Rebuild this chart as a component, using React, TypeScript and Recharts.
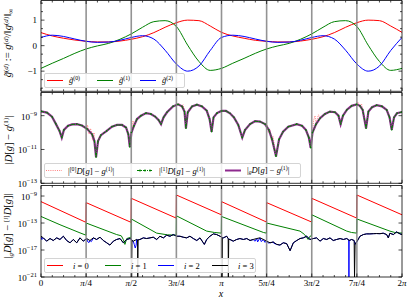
import React from 'react';
import { LineChart, Line, XAxis, YAxis, ReferenceLine, Legend } from 'recharts';

const FONT = '"Liberation Serif", "DejaVu Serif", serif';

// x is measured in units of pi throughout
const xGrid = [0, 0.0625, 0.125, 0.1875, 0.25, 0.3125, 0.375, 0.4375, 0.5, 0.5625, 0.625, 0.6875, 0.75, 0.8125, 0.875, 0.9375, 1,
  1.0625, 1.125, 1.1875, 1.25, 1.3125, 1.375, 1.4375, 1.5, 1.5625, 1.625, 1.6875, 1.75, 1.8125, 1.875, 1.9375, 2];
const xTickLabels = ['0', 'π/4', 'π/2', '3π/4', 'π', '5π/4', '3π/2', '7π/4', '2π'];
const gridLines = [0.25, 0.5, 0.75, 1, 1.25, 1.5, 1.75];

// top panel: normalised g and derivatives
const gTilde0 = [0.51, 0.38, 0.29, 0.22, 0.17, 0.145, 0.145, 0.18, 0.25, 0.35, 0.51, 0.72, 0.9, 1.0, 0.98, 0.77,
  0.52, 0.38, 0.29, 0.21, 0.17, 0.145, 0.145, 0.18, 0.25, 0.35, 0.51, 0.72, 0.9, 1.0, 0.98, 0.77, 0.52];
const gTilde1 = [-0.89, -0.69, -0.5, -0.3, -0.13, -0.01, 0.09, 0.25, 0.46, 0.72, 0.94, 0.98, 0.75, 0.02, -0.62, -0.97,
  -0.89, -0.69, -0.5, -0.3, -0.13, -0.01, 0.09, 0.25, 0.46, 0.72, 0.94, 0.98, 0.75, 0.02, -0.62, -0.97, -0.89];
const gTilde2 = [0.32, 0.41, 0.36, 0.26, 0.17, 0.13, 0.14, 0.21, 0.32, 0.39, 0.26, -0.18, -0.72, -1.0, -0.8, -0.19,
  0.32, 0.41, 0.36, 0.26, 0.17, 0.13, 0.14, 0.21, 0.32, 0.39, 0.26, -0.18, -0.72, -1.0, -0.8, -0.19, 0.32];

// middle panel: log10 |D[g] - g'|, [x, log10]
const errGD: [number, number][] = [
  [0, -8.74], [0.033, -8.82], [0.061, -9.06], [0.083, -9.5], [0.1025, -9.9], [0.115, -10.3], [0.127, -9.84], [0.15, -9.6],
  [0.172, -9.52], [0.199, -9.5], [0.227, -9.58], [0.255, -9.78], [0.283, -10.1], [0.296, -10.5], [0.305, -11.45], [0.316, -10.5],
  [0.332, -10.15], [0.364, -9.9], [0.393, -9.65], [0.421, -9.55], [0.449, -9.55], [0.471, -9.7], [0.484, -10.1], [0.492, -10.85],
  [0.501, -10.0], [0.515, -9.6], [0.532, -9.2], [0.554, -9.0], [0.582, -8.85], [0.609, -8.9], [0.632, -9.05], [0.651, -9.25],
  [0.665, -9.5], [0.679, -9.1], [0.698, -8.8], [0.731, -8.45], [0.759, -8.33], [0.781, -8.45], [0.795, -8.75], [0.803, -9.74],
  [0.813, -8.8], [0.837, -8.45], [0.864, -8.35], [0.892, -8.45], [0.918, -8.7], [0.934, -9.2], [0.945, -9.95], [0.956, -9.1],
  [0.975, -8.85], [1.0, -8.72], [1.025, -8.72], [1.047, -8.86], [1.069, -9.1], [1.093, -9.55], [1.115, -10.3], [1.13, -9.85],
  [1.158, -9.5], [1.186, -9.33], [1.213, -9.35], [1.241, -9.5], [1.263, -9.85], [1.28, -10.4], [1.302, -11.4], [1.319, -10.4],
  [1.341, -9.95], [1.37, -9.65], [1.417, -9.5], [1.446, -9.6], [1.468, -9.85], [1.484, -10.3], [1.494, -10.9], [1.504, -10.0],
  [1.524, -9.5], [1.546, -9.15], [1.573, -8.9], [1.601, -8.76], [1.629, -8.8], [1.648, -9.0], [1.66, -9.5], [1.673, -9.0],
  [1.695, -8.65], [1.721, -8.42], [1.749, -8.33], [1.767, -8.42], [1.782, -8.66], [1.801, -9.74], [1.814, -8.75], [1.834, -8.5],
  [1.86, -8.38], [1.889, -8.45], [1.915, -8.66], [1.931, -9.1], [1.943, -9.84], [1.956, -9.1], [1.972, -8.86], [2.0, -8.78],
];
// where the [0] stencil wanders off the common curve
const errD0Wiggles: [number, number][] = [
  [0.258, -9.55], [0.266, -10.1], [0.274, -9.75], [0.285, -10.45], [0.294, -10.0], [0.324, -10.2],
  [0.51, -9.3], [0.521, -9.55], [0.529, -9.15],
  [0.765, -8.28], [0.776, -8.5], [0.787, -8.35], [0.798, -8.9],
  [1.252, -9.55], [1.26, -10.0], [1.269, -9.8], [1.277, -10.5], [1.285, -10.2],
  [1.51, -9.3], [1.518, -9.0], [1.529, -9.25], [1.537, -8.95],
  [1.756, -8.2], [1.764, -8.45], [1.776, -8.3], [1.784, -8.75],
];

// bottom panel: log10 |gD[g] - [i]D[g]|
const diff0: [number, number][] = [
  [0, -9.83], [0.249, -12.9], [0.2501, -9.98], [0.499, -12.9], [0.5001, -9.34], [0.749, -12.27], [0.7501, -8.85], [0.999, -11.78],
  [1.0001, -9.83], [1.249, -12.85], [1.2501, -9.98], [1.499, -12.85], [1.5001, -9.34], [1.749, -12.27], [1.7501, -8.85], [2.0, -11.78],
];
const diff1: [number, number][] = [
  [0, -12.03], [0.105, -13.25], [0.216, -14.46], [0.249, -14.8],
  [0.2501, -13.0], [0.419, -14.71], [0.445, -14.9], [0.456, -15.44], [0.465, -16.17], [0.475, -15.3], [0.499, -15.1],
  [0.5001, -12.4], [0.641, -14.5], [0.7, -14.75], [0.749, -14.8],
  [0.7501, -11.93], [0.918, -14.2], [0.96, -14.4], [0.999, -14.5],
  [1.0001, -12.03], [1.232, -14.4], [1.249, -14.5],
  [1.2501, -13.0], [1.435, -14.2], [1.46, -14.7], [1.48, -15.44], [1.49, -14.96], [1.499, -14.9],
  [1.5001, -11.78], [1.694, -14.2], [1.72, -14.4], [1.749, -14.5],
  [1.7501, -12.4], [1.933, -14.2], [1.96, -14.4], [2.0, -14.5],
];
const diff3: [number, number][] = [
  [0, -14.96], [0.013, -15.2], [0.031, -15.69], [0.05, -15.3], [0.068, -15.59], [0.087, -15.2], [0.105, -15.44], [0.124, -14.96],
  [0.142, -15.59], [0.161, -15.93], [0.179, -15.44], [0.198, -15.93], [0.216, -15.2], [0.234, -15.69], [0.253, -15.3], [0.271, -15.59],
  [0.29, -15.2], [0.308, -15.44], [0.327, -15.1], [0.345, -15.59], [0.364, -15.93], [0.382, -16.27], [0.401, -15.69], [0.419, -15.44],
  [0.438, -15.3], [0.456, -15.93], [0.475, -15.44], [0.493, -15.3], [0.501, -15.4], [0.502, -21], [0.504, -15.6], [0.511, -15.69],
  [0.53, -15.44], [0.535, -15.5], [0.536, -21], [0.538, -15.5], [0.548, -15.44], [0.567, -15.2], [0.585, -15.3], [0.604, -15.2],
  [0.622, -15.1], [0.641, -15.44], [0.659, -14.96], [0.678, -15.2], [0.696, -14.81], [0.715, -14.96], [0.733, -14.71], [0.752, -14.96],
  [0.77, -14.96], [0.788, -15.1], [0.807, -15.2], [0.825, -14.96], [0.844, -15.3], [0.863, -15.59], [0.881, -15.2], [0.899, -15.93],
  [0.905, -16.17], [0.918, -15.44], [0.936, -14.96], [0.955, -14.61], [0.973, -14.71], [0.992, -14.96], [1.002, -15.1], [1.003, -21],
  [1.005, -15.2], [1.01, -15.2], [1.029, -14.96], [1.037, -15.3], [1.038, -21], [1.04, -15.4], [1.047, -15.44], [1.065, -15.69],
  [1.084, -15.44], [1.102, -15.3], [1.121, -15.44], [1.14, -15.3], [1.158, -15.59], [1.176, -15.44], [1.195, -15.3], [1.213, -15.2],
  [1.232, -15.44], [1.25, -15.69], [1.269, -15.93], [1.287, -15.81], [1.306, -16.17], [1.324, -16.27], [1.342, -15.93], [1.361, -16.05],
  [1.38, -17.1], [1.398, -15.93], [1.417, -15.59], [1.435, -15.3], [1.453, -15.2], [1.472, -14.96], [1.49, -15.44], [1.509, -15.3],
  [1.527, -15.2], [1.546, -15.69], [1.564, -15.3], [1.583, -15.44], [1.601, -15.2], [1.619, -15.59], [1.638, -15.44], [1.657, -15.3],
  [1.675, -15.44], [1.694, -15.3], [1.708, -15.59], [1.721, -15.44], [1.735, -15.6], [1.737, -21], [1.74, -16.2], [1.745, -15.9],
  [1.752, -15.69], [1.767, -14.96], [1.786, -14.71], [1.804, -14.61], [1.822, -14.61], [1.841, -14.58], [1.859, -14.56], [1.878, -14.58],
  [1.896, -14.51], [1.915, -14.71], [1.924, -15.2], [1.933, -14.51], [1.952, -14.71], [1.97, -14.32], [1.989, -14.61], [2.0, -14.71],
];
// where i=2 shows from under i=3
const diff2Extra: [number, number][] = [
  [0.005, -15.45], [0.258, -15.75], [0.266, -15.9], [0.279, -15.75], [0.517, -16.2], [0.522, -16.7], [0.527, -16.3],
  [1.185, -15.7], [1.2, -15.8], [1.22, -15.75], [1.24, -15.85], [1.26, -15.95], [1.29, -16.0],
  [1.705, -15.5], [1.706, -21], [1.707, -15.5],
];

const toPts = (arr: [number, number][]) => arr.map(([x, y]) => ({ x, y }));
const byX = (a: { x: number }, b: { x: number }) => a.x - b.x;

const panel1Data = xGrid.map((x, i) => ({ x, g0: gTilde0[i], g1: gTilde1[i], g2: gTilde2[i] }));
const errGDPts = toPts(errGD);
const errD0Pts = [...toPts(errGD), ...toPts(errD0Wiggles)].sort(byX);
const diff0Pts = toPts(diff0);
const diff1Pts = toPts(diff1);
const diff3Pts = toPts(diff3);
const diff2Pts = [...toPts(diff3.filter(([, v]) => v > -20)), ...toPts(diff2Extra)].sort(byX);

const isQuarter = (v: number) => Math.abs(v * 4 - Math.round(v * 4)) < 1e-6;

const Sup = ({ children }: any) => <span style={{ fontSize: '0.68em', verticalAlign: '0.5em' }}>{children}</span>;
const Sub = ({ children }: any) => <span style={{ fontSize: '0.68em', verticalAlign: '-0.25em' }}>{children}</span>;
const I = ({ children }: any) => <i>{children}</i>;

const XTick = (props: any) => {
  const { x, y, payload, showLabel, top } = props;
  const major = isQuarter(payload.value);
  const len = major ? 3.5 : 2;
  const label = xTickLabels[Math.round(payload.value * 4)];
  return (
    <g>
      <line x1={x} x2={x} y1={y} y2={top ? y + len : y - len} stroke="#000" strokeWidth={0.7} />
      {showLabel && major && (
        <text x={x} y={y + 8.5} textAnchor="middle" fontSize={9} fontFamily={FONT} fill="#000">
          {label.split('').map((c, i) => (
            <tspan key={i} fontStyle={c === 'π' ? 'italic' : 'normal'}>{c}</tspan>
          ))}
        </text>
      )}
    </g>
  );
};

const YTick = (props: any) => {
  const { x, y, payload, major, fmt, right } = props;
  const v = payload.value;
  const isMaj = major.some((m: number) => Math.abs(m - v) < 1e-9);
  const len = isMaj ? 3.5 : 2;
  return (
    <g>
      <line x1={x} x2={right ? x - len : x + len} y1={y} y2={y} stroke="#000" strokeWidth={0.7} />
      {!right && isMaj && fmt(v, x - 4, y)}
    </g>
  );
};

const minus = (v: number) => (v < 0 ? '−' + Math.abs(v) : String(v));
const linFmt = (v: number, x: number, y: number) => (
  <text x={x} y={y + 3} textAnchor="end" fontSize={9} fontFamily={FONT} fill="#000">{minus(v)}</text>
);
const logFmt = (v: number, x: number, y: number) => (
  <text x={x} y={y + 4} textAnchor="end" fontSize={9} fontFamily={FONT} fill="#000">
    10<tspan dy={-4} fontSize={6.5}>{minus(v)}</tspan>
  </text>
);

const axisLine = { stroke: '#000', strokeWidth: 0.8 };

// four framing axes; each is 1px thick so Recharts draws it
const frame = (yDomain: number[], yMajor: number[], yMinor: number[], fmt: any, showX: boolean) => {
  const yTicks = [...yMajor, ...yMinor].sort((a, b) => a - b);
  return [
    <XAxis key="xb" dataKey="x" type="number" domain={[0, 2]} ticks={xGrid} interval={0} height={1} tickSize={0}
      tickMargin={0} tickLine={false} axisLine={axisLine} allowDataOverflow tick={<XTick showLabel={showX} />} />,
    <XAxis key="xt" xAxisId="top" orientation="top" dataKey="x" type="number" domain={[0, 2]} ticks={xGrid} interval={0}
      height={1} tickSize={0} tickMargin={0} tickLine={false} axisLine={axisLine} allowDataOverflow tick={<XTick top />} />,
    <YAxis key="yl" type="number" domain={yDomain} ticks={yTicks} interval={0} width={1} tickSize={0} tickMargin={0}
      tickLine={false} axisLine={axisLine} allowDataOverflow tick={<YTick major={yMajor} fmt={fmt} />} />,
    <YAxis key="yr" yAxisId="right" orientation="right" type="number" domain={yDomain} ticks={yTicks} interval={0} width={1}
      tickSize={0} tickMargin={0} tickLine={false} axisLine={axisLine} allowDataOverflow tick={<YTick right major={yMajor} />} />,
  ];
};

const vLines = () =>
  gridLines.map((g) => (
    <ReferenceLine key={g} x={g} stroke="#808080" strokeOpacity={0.85} strokeWidth={1.6} ifOverflow="hidden" />
  ));

const LegendBox = ({ items, width }: any) => (
  <div style={{ position: 'relative', width, height: 15, border: '1px solid #d4d4d4', borderRadius: 2,
    background: 'rgba(255,255,255,0.85)', boxSizing: 'border-box', fontFamily: FONT, fontSize: 8.5, color: '#000' }}>
    {items.map((it: any, i: number) => (
      <div key={i} style={{ position: 'absolute', left: it.left, top: 0, height: 13, display: 'flex', alignItems: 'center', whiteSpace: 'nowrap' }}>
        <svg width={16} height={13} style={{ marginRight: it.gap ?? 6 }}>{it.marker}</svg>
        <span>{it.label}</span>
      </div>
    ))}
  </div>
);

const solid = (c: string, w = 1) => <line x1={0} x2={16} y1={6.5} y2={6.5} stroke={c} strokeWidth={w} />;

const legend1 = [
  { left: 2, marker: solid('red'), label: <><I>g̃</I><Sup>(0)</Sup></> },
  { left: 52, marker: solid('green'), label: <><I>g̃</I><Sup>(1)</Sup></> },
  { left: 95, marker: solid('blue'), label: <><I>g̃</I><Sup>(2)</Sup></> },
];
const legend2 = [
  { left: 1, marker: <line x1={0} x2={16} y1={6.5} y2={6.5} stroke="#ff8080" strokeWidth={1} strokeDasharray="1 1.2" />,
    label: <>|<Sup>[0]</Sup><I>D</I>[<I>g</I>] − <I>g</I><Sup>(1)</Sup>|</> },
  { left: 92, marker: <g><line x1={0} x2={16} y1={6.5} y2={6.5} stroke="green" strokeWidth={1} strokeDasharray="3 1 1 1" />
      <circle cx={3} cy={6.5} r={1} fill="green" /><circle cx={8} cy={6.5} r={1} fill="green" /><circle cx={13} cy={6.5} r={1} fill="green" /></g>,
    label: <>|<Sup>[1]</Sup><I>D</I>[<I>g</I>] − <I>g</I><Sup>(1)</Sup>|</> },
  { left: 180, marker: solid('#8e2a8e', 2),
    label: <>|<Sub><I>g</I></Sub><I>D</I>[<I>g</I>] − <I>g</I><Sup>(1)</Sup>|</> },
];
const legend3 = [
  { left: 2, marker: solid('red'), label: <><I>i</I> = 0</>, gap: 10 },
  { left: 60, marker: solid('green'), label: <><I>i</I> = 1</>, gap: 10 },
  { left: 113, marker: solid('blue'), label: <><I>i</I> = 2</>, gap: 10 },
  { left: 167, marker: solid('#000'), label: <><I>i</I> = 3</>, gap: 10 },
];

const legendProps = { layout: 'vertical' as const, align: 'center' as const, verticalAlign: 'middle' as const };

const yLabelStyle = (cy: number): React.CSSProperties => ({
  position: 'absolute', left: 9, top: cy, transform: 'translate(-50%, -50%) rotate(-90deg)', whiteSpace: 'nowrap',
  fontFamily: FONT, fontSize: 10.5, color: '#000', lineHeight: 1,
});

const plotMargin = { top: 0.5, right: 4, bottom: 0.7, left: 40 };

export default function App() {
  return (
    <div style={{ position: 'absolute', left: 0, top: 0, width: 407, height: 300, background: '#fff', fontFamily: FONT, overflow: 'hidden' }}>
      <div style={{ position: 'absolute', left: 0, top: -1 }}>
        <LineChart width={407} height={94} data={panel1Data} margin={plotMargin}>
          {frame([-1.79, 1.77], [-1, 0, 1], [-5 / 3, -4 / 3, -2 / 3, -1 / 3, 1 / 3, 2 / 3, 4 / 3, 5 / 3], linFmt, false)}
          <Line dataKey="g0" type="monotone" stroke="red" strokeWidth={1} dot={false} isAnimationActive={false} />
          <Line dataKey="g1" type="monotone" stroke="green" strokeWidth={1} dot={false} isAnimationActive={false} />
          <Line dataKey="g2" type="monotone" stroke="blue" strokeWidth={1} dot={false} isAnimationActive={false} />
          {vLines()}
          <Legend {...legendProps} wrapperStyle={{ left: 44, top: 73.5, width: 141, height: 15 }}
            content={() => <LegendBox items={legend1} width={141} />} />
        </LineChart>
      </div>
      <div style={{ position: 'absolute', left: 0, top: 91 }}>
        <LineChart width={407} height={101} margin={{ ...plotMargin, bottom: 7.7 }}>
          {frame([-13, -7.63], [-13, -11, -9], [], logFmt, false)}
          <Line data={errD0Pts} dataKey="y" type="linear" stroke="#ff8080" strokeWidth={1} strokeDasharray="1 1.2" dot={false} isAnimationActive={false} />
          <Line data={errGDPts} dataKey="y" type="linear" stroke="#8e2a8e" strokeWidth={2.2} dot={false} isAnimationActive={false} />
          <Line data={errGDPts} dataKey="y" type="linear" stroke="green" strokeWidth={1} strokeDasharray="3 1 1 1"
            dot={{ r: 0.8, fill: 'green', stroke: 'none' }} isAnimationActive={false} />
          {vLines()}
          <Legend {...legendProps} wrapperStyle={{ left: 44, top: 72, width: 257, height: 15 }}
            content={() => <LegendBox items={legend2} width={257} />} />
        </LineChart>
      </div>
      <div style={{ position: 'absolute', left: 0, top: 184 }}>
        <LineChart width={407} height={116} margin={{ ...plotMargin, bottom: 22 }}>
          {frame([-21, -7.44], [-21, -17, -13, -9], [], logFmt, true)}
          <Line data={diff0Pts} dataKey="y" type="linear" stroke="red" strokeWidth={1} dot={false} isAnimationActive={false} />
          <Line data={diff1Pts} dataKey="y" type="linear" stroke="green" strokeWidth={1} dot={false} isAnimationActive={false} />
          <Line data={diff2Pts} dataKey="y" type="linear" stroke="blue" strokeWidth={1} dot={false} isAnimationActive={false} />
          <Line data={diff3Pts} dataKey="y" type="linear" stroke="#000" strokeWidth={1} dot={false} isAnimationActive={false} />
          {vLines()}
          <Legend {...legendProps} wrapperStyle={{ left: 44, top: 74, width: 212, height: 15 }}
            content={() => <LegendBox items={legend3} width={212} />} />
        </LineChart>
      </div>
      <div style={yLabelStyle(43)}>
        <I>g̃</I><Sup>(<I>d</I>)</Sup> := <I>g</I><Sup>(<I>d</I>)</Sup>/‖<I>g</I><Sup>(<I>d</I>)</Sup>‖<Sub>∞</Sub>
      </div>
      <div style={yLabelStyle(140)}>
        |<I>D</I>[<I>g</I>] − <I>g</I><Sup>(1)</Sup>|
      </div>
      <div style={yLabelStyle(226)}>
        |<Sub><I>g</I></Sub><I>D</I>[<I>g</I>] − <Sup>[<I>i</I>]</Sup><I>D</I>[<I>g</I>]|
      </div>
      <div style={{ position: 'absolute', left: 221, top: 289, transform: 'translateX(-50%)', fontFamily: FONT, fontSize: 10, fontStyle: 'italic', lineHeight: 1 }}>
        x
      </div>
    </div>
  );
}
